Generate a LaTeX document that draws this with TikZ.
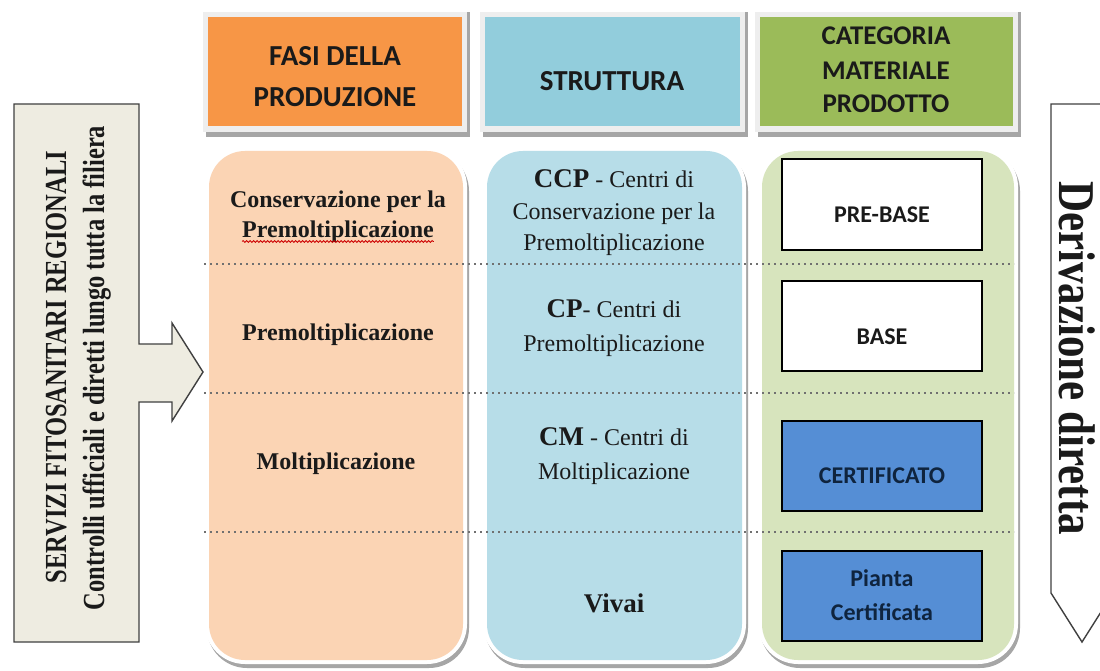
\documentclass[tikz,border=0pt]{standalone}
\usepackage{fontspec}
\setmainfont{Liberation Serif}
\newfontfamily\carl{Carlito}
\usetikzlibrary{decorations.pathmorphing}
\definecolor{hOrange}{HTML}{F79646}
\definecolor{hBlue}{HTML}{92CDDC}
\definecolor{hGreen}{HTML}{9BBB59}
\definecolor{cOrange}{HTML}{FBD4B4}
\definecolor{cBlue}{HTML}{B7DDE8}
\definecolor{cGreen}{HTML}{D7E4BD}
\definecolor{bxBlue}{HTML}{558ED5}
\definecolor{navy}{HTML}{0F243E}
\definecolor{beige}{HTML}{EEECE1}
\definecolor{frameGray}{HTML}{EEEEEE}
\definecolor{shadowGray}{HTML}{A6A6A6}
\definecolor{edgeGray}{HTML}{404040}
\definecolor{dotGray}{HTML}{707070}
\definecolor{txt}{HTML}{1A1A1A}
\newcommand{\fsz}[1]{\fontsize{#1}{#1}\selectfont}
\newcommand{\tallr}[1]{\scalebox{1}[1.25]{#1}}
\begin{document}
\begin{tikzpicture}[x=1pt,y=-1pt,
  lbl/.style={anchor=base, inner sep=0pt, text=txt},
  hdrtext/.style={lbl, font=\carl\bfseries\fsz{29}},
  grntext/.style={lbl, font=\carl\bfseries\fsz{27}},
  phase/.style={lbl, font=\bfseries\fsz{24}},
  struct/.style={lbl, font=\fsz{24}},
  boxtext/.style={lbl, font=\carl\bfseries\fsz{24}},
  catbox/.style={draw=black, line width=2pt, minimum width=200pt, minimum height=90pt, inner sep=0pt},
  dotline/.style={dotGray, line width=1.7pt, dash pattern=on 1.7pt off 4.3pt},
  arrowshape/.style={draw=edgeGray, line width=1.4pt, line join=miter}
]
\useasboundingbox (0,0) rectangle (1100,671);
\fill[white] (0,0) rectangle (1100,671);

% ---------- header boxes ----------
\foreach \xa/\xb/\col in {208/462/hOrange, 485/740/hBlue, 760/1013/hGreen}{
  \fill[shadowGray] (\xa-2,12) rectangle (\xb+8,137);
  \fill[frameGray] (\xa-5,12) rectangle (\xb+5,132);
  \fill[\col] (\xa,17) rectangle (\xb,126);
}
\node[hdrtext] (h1a) at (335,66) {FASI DELLA};
\node[hdrtext] (h1b) at (335,107) {PRODUZIONE};
\node[hdrtext] (h2) at (612,91) {STRUTTURA};
\node[grntext] (h3a) at (886,45) {CATEGORIA};
\node[grntext] (h3b) at (886,80) {MATERIALE};
\node[grntext] (h3c) at (886,113) {PRODOTTO};

% ---------- columns ----------
\foreach \xa/\xb/\col in {205/467/cOrange, 483/746/cBlue, 758/1018/cGreen}{
  \fill[shadowGray, rounded corners=40pt] (\xa+2,151) rectangle (\xb+2,668);
  \fill[white, rounded corners=40pt] (\xa,147) rectangle (\xb,664);
  \fill[\col, rounded corners=36pt] (\xa+4,151) rectangle (\xb-4,660);
}

% ---------- dotted separators ----------
\foreach \yy in {264,393,532}{
  \draw[dotline] (204,\yy) -- (1014,\yy);
}

% ---------- category boxes ----------
\node[catbox, fill=white] (pb) at (882,204.5) {};
\node[catbox, fill=white] (bs) at (882,325.5) {};
\node[catbox, fill=bxBlue] (ce) at (882,466) {};
\node[catbox, fill=bxBlue] (pc) at (882,595.5) {};
\node[boxtext] (pbt) at (882,222.5) {PRE-BASE};
\node[boxtext] (bst) at (882,344) {BASE};
\node[boxtext, text=navy] (cet) at (882,483.5) {CERTIFICATO};
\node[boxtext, text=navy] (pcta) at (882,586) {Pianta};
\node[boxtext, text=navy] (pctb) at (882,620) {Certificata};

% ---------- phase texts ----------
\node[phase] (o1a) at (338,207.5) {Conservazione per la};
\node[phase] (o1b) at (338,237.5) {Premoltiplicazione};
\draw[red!80!black, line width=0.8pt, decorate, decoration={snake, amplitude=1pt, segment length=3.5pt}]
  ([yshift=-4pt]o1b.base west) -- ([yshift=-4pt]o1b.base east);
\node[phase] (o2) at (338,340) {Premoltiplicazione};
\node[phase] (o3) at (336,469) {Moltiplicazione};

% ---------- structure texts ----------
\node[struct] (b1a) at (614,188) {{\bfseries\fsz{27}CCP} - Centri di};
\node[struct] (b1b) at (614,220) {Conservazione per la};
\node[struct] (b1c) at (614,250) {Premoltiplicazione};
\node[struct] (b2a) at (614,317) {{\bfseries\fsz{27}CP}- Centri di};
\node[struct] (b2b) at (614,351) {Premoltiplicazione};
\node[struct] (b3a) at (614,445) {{\bfseries\fsz{27}CM} - Centri di};
\node[struct] (b3b) at (614,479) {Moltiplicazione};
\node[lbl, font=\bfseries\fsz{27}] (b4) at (614,612) {Vivai};

% ---------- left arrow ----------
\draw[arrowshape, fill=beige] (14,104) -- (139,104) -- (139,344) -- (172,344) -- (172,323)
  -- (203,372) -- (172,421) -- (172,402) -- (139,402) -- (139,642) -- (14,642) -- cycle;
\node[lbl, rotate=90, font=\bfseries\fsz{24.5}] (sf1) at (66,367) {\tallr{SERVIZI FITOSANITARI REGIONALI}};
\node[lbl, rotate=90, font=\bfseries\fsz{24.5}] (sf2) at (104,368) {\tallr{Controlli ufficiali e diretti lungo tutta la filiera}};

% ---------- right arrow ----------
\begin{scope}
  \clip (0,0) rectangle (1100,671);
  \draw[arrowshape, fill=white] (1051,104) -- (1113,104) -- (1113,593) -- (1082,642) -- (1051,593) -- cycle;
\end{scope}
\node[lbl, rotate=-90, font=\bfseries\fsz{43}] (dd) at (1059,358) {\scalebox{1}[1.2]{Derivazione diretta}};
\end{tikzpicture}
\end{document}
